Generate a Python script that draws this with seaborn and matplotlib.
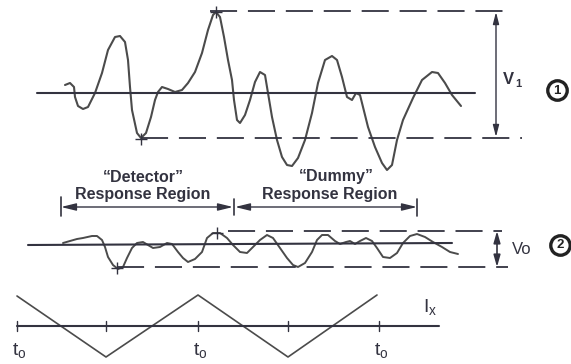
import numpy as np
import pandas as pd
import matplotlib
matplotlib.use("Agg")
import matplotlib.pyplot as plt
import seaborn as sns

# upper trace (detector + dummy response) in pixel coords
curve1_x = [65, 70, 74, 75, 78, 83, 88, 95, 102, 108, 115, 120, 125, 128, 130, 132, 137, 141,
            146, 151, 155, 158, 162, 168, 175, 182, 188, 195, 202, 208, 213, 216, 220, 224,
            228, 232, 234, 237, 240, 245, 250, 255, 260, 265, 268, 272, 277, 282, 287, 292,
            298, 305, 312, 318, 325, 332, 337, 342, 347, 352, 356, 360, 363, 368, 375, 382,
            387, 392, 397, 403, 413, 422, 432, 438, 445, 452, 461]
curve1_y = [85, 83, 87, 97, 106, 109, 107, 93, 73, 50, 37, 36, 42, 60, 87, 110, 133, 138,
            133, 117, 100, 92, 87, 89, 92, 90, 83, 72, 53, 30, 15, 12, 17, 37,
            60, 80, 100, 120, 123, 115, 100, 82, 72, 75, 93, 117, 140, 157, 165, 166,
            158, 140, 113, 83, 60, 56, 60, 77, 97, 100, 93, 95, 107, 127, 147, 163,
            170, 165, 140, 120, 98, 80, 72, 73, 83, 95, 106]

# lower trace
curve2_x = [63, 70, 77, 83, 92, 97, 102, 105, 108, 113, 118, 123, 127, 132, 137, 143, 148,
            153, 160, 167, 172, 178, 183, 188, 195, 202, 207, 213, 220, 227, 233, 240, 247,
            253, 260, 267, 273, 280, 287, 293, 298, 305, 312, 317, 322, 328, 335, 340, 346,
            350, 355, 360, 366, 372, 377, 383, 390, 397, 403, 410, 417, 425, 433, 442, 450, 458]
curve2_y = [243, 241, 239, 238, 236, 236, 240, 247, 257, 265, 269, 267, 258, 248, 243, 242, 245,
            248, 247, 243, 244, 252, 258, 262, 259, 252, 238, 233, 233, 238, 245, 252, 253,
            247, 240, 235, 238, 248, 258, 265, 267, 263, 252, 240, 235, 235, 241, 244, 242,
            241, 244, 241, 238, 241, 248, 257, 258, 253, 243, 236, 234, 237, 242, 247, 252, 254]

# triangular excitation
ramp_x = [17, 106, 198, 288, 377]
ramp_y = [296, 357, 295, 357, 295]
tick_x = [17, 106, 198, 288, 379]
t0_x = [17, 198, 379]

base1 = ([37, 475], [93, 93])
base2 = ([28, 452], [245, 243])
base3 = ([17, 439], [326, 326])

ink = "#4b4b4b"
dark = "#333340"

sns.set_style("white")
plt.rcParams["font.family"] = ["Liberation Sans", "DejaVu Sans"]
plt.rcParams["mathtext.fontset"] = "custom"
plt.rcParams["mathtext.rm"] = "Liberation Sans"
plt.rcParams["mathtext.it"] = "Liberation Sans"

fig = plt.figure(figsize=(5.71, 3.64), dpi=100)
ax = fig.add_axes([0, 0, 1, 1])

df1 = pd.DataFrame({"x": curve1_x, "y": curve1_y})
df2 = pd.DataFrame({"x": curve2_x, "y": curve2_y})
df3 = pd.DataFrame({"x": ramp_x, "y": ramp_y})
for d, lw in [(df1, 1.5), (df2, 1.4), (df3, 1.2)]:
    sns.lineplot(data=d, x="x", y="y", sort=False, estimator=None, color=ink,
                 lw=lw, ax=ax, solid_joinstyle="round", solid_capstyle="round")

# baselines
for bx, by in [base1, base2, base3]:
    ax.plot(bx, by, color=dark, lw=1.5)

# peak / trough envelope lines
ax.plot([210, 512], [11, 11], color=dark, lw=1.3, dashes=(15, 6))
ax.plot([141, 522], [138, 138], color=dark, lw=1.3, dashes=(15, 6))
ax.plot([228, 502], [231, 231], color=dark, lw=1.3, dashes=(15, 6))
ax.plot([117, 508], [267, 267], color=dark, lw=1.3, dashes=(15, 6))

# + marks on the extremes
ax.plot([216, 141, 217, 117], [12, 139, 233, 268], ls="none", marker="+",
        ms=9, mew=1, color=dark)

# V1 and Vo
ax.annotate("", xy=(496, 12), xytext=(496, 137),
            arrowprops=dict(arrowstyle="<|-|>,head_length=0.7,head_width=0.18",
                            color=dark, lw=1, shrinkA=0, shrinkB=0))
ax.text(503, 80, "V", fontsize=12, fontweight="bold", color=dark, va="center")
ax.text(515, 84, "1", fontsize=8, fontweight="bold", color=dark, va="center")
ax.annotate("", xy=(497, 231), xytext=(497, 267),
            arrowprops=dict(arrowstyle="<|-|>,head_length=0.7,head_width=0.2",
                            color=dark, lw=1.2, shrinkA=0, shrinkB=0))
ax.text(512, 249, "Vo", fontsize=12, color=dark, va="center")

# circled panel numbers
for cx, cy, s in [(557, 90, "1"), (560, 245, "2")]:
    ax.plot(cx, cy, marker="o", ms=14, mfc="white", mec="#222", mew=2.4)
    ax.text(cx, cy + 0.5, s, fontsize=9.5, fontweight="bold", color="#222",
            ha="center", va="center")

# response region arrows
arr = dict(arrowstyle="<|-|>,head_length=0.9,head_width=0.22", color=dark,
           lw=1, shrinkA=0, shrinkB=0)
ax.annotate("", xy=(61, 207), xytext=(233, 207), arrowprops=arr)
ax.annotate("", xy=(235, 207), xytext=(417, 207), arrowprops=arr)
ax.plot([61, 61], [197, 216], color=dark, lw=1.2)
ax.plot([234, 234], [199, 215], color=dark, lw=1.2)
ax.plot([417, 417], [199, 216], color=dark, lw=1.2)
ax.text(143, 178, "\u201cDetector\u201d", fontsize=11.5, fontweight="bold", color=dark,
        ha="center", va="center")
ax.text(143, 195, "Response Region", fontsize=11.5, fontweight="bold", color=dark,
        ha="center", va="center")
ax.text(336, 176, "\u201cDummy\u201d", fontsize=11.5, fontweight="bold", color=dark,
        ha="center", va="center")
ax.text(330, 195, "Response Region", fontsize=11.5, fontweight="bold", color=dark,
        ha="center", va="center")

# time axis ticks and labels
for tx in tick_x:
    ax.plot([tx, tx], [321, 331], color=dark, lw=1)
for tx in t0_x:
    ax.text(tx + 2, 351, r"$\mathrm{t_o}$", fontsize=14, color=dark,
            ha="center", va="center")
ax.text(430, 307, r"$\mathrm{I_x}$", fontsize=14, color=dark, ha="center", va="center")

ax.set_xlim(0, 571)
ax.set_ylim(364, 0)
ax.axis("off")
fig.savefig("out.png", dpi=100, facecolor="white")
